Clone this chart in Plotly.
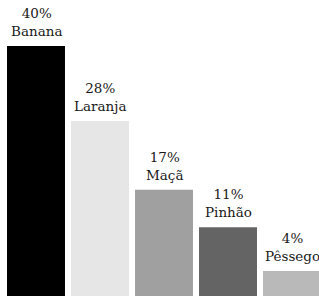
import plotly.graph_objects as go

categories = ["Banana", "Laranja", "Maçã", "Pinhão", "Pêssego"]
values = [40, 28, 17, 11, 4]
colors = ["#000000", "#e6e6e6", "#a0a0a0", "#646464", "#b9b9b9"]

fig = go.Figure()
fig.add_trace(go.Bar(
    x=categories, y=values, marker=dict(color=colors, line=dict(width=0)),
    hoverinfo="skip",
))
for c, v in zip(categories, values):
    fig.add_annotation(
        x=c, y=v, text=f"{v}%<br>{c}", showarrow=False,
        yanchor="bottom", yshift=5,
        font=dict(family="DejaVu Serif", size=13.5, color="#1a1a1a"),
    )

fig.update_layout(
    width=319, height=296,
    margin=dict(l=0, r=0, t=0, b=0),
    paper_bgcolor="white", plot_bgcolor="white",
    bargap=0.094,
    showlegend=False,
    xaxis=dict(range=[-0.5625, 4.4219], visible=False, fixedrange=True),
    yaxis=dict(range=[0, 47.36], visible=False, fixedrange=True),
)
fig.write_html(
    "out.html",
    config={"displayModeBar": False},
    post_script="document.body.style.margin='0';document.body.style.overflow='hidden';",
)
